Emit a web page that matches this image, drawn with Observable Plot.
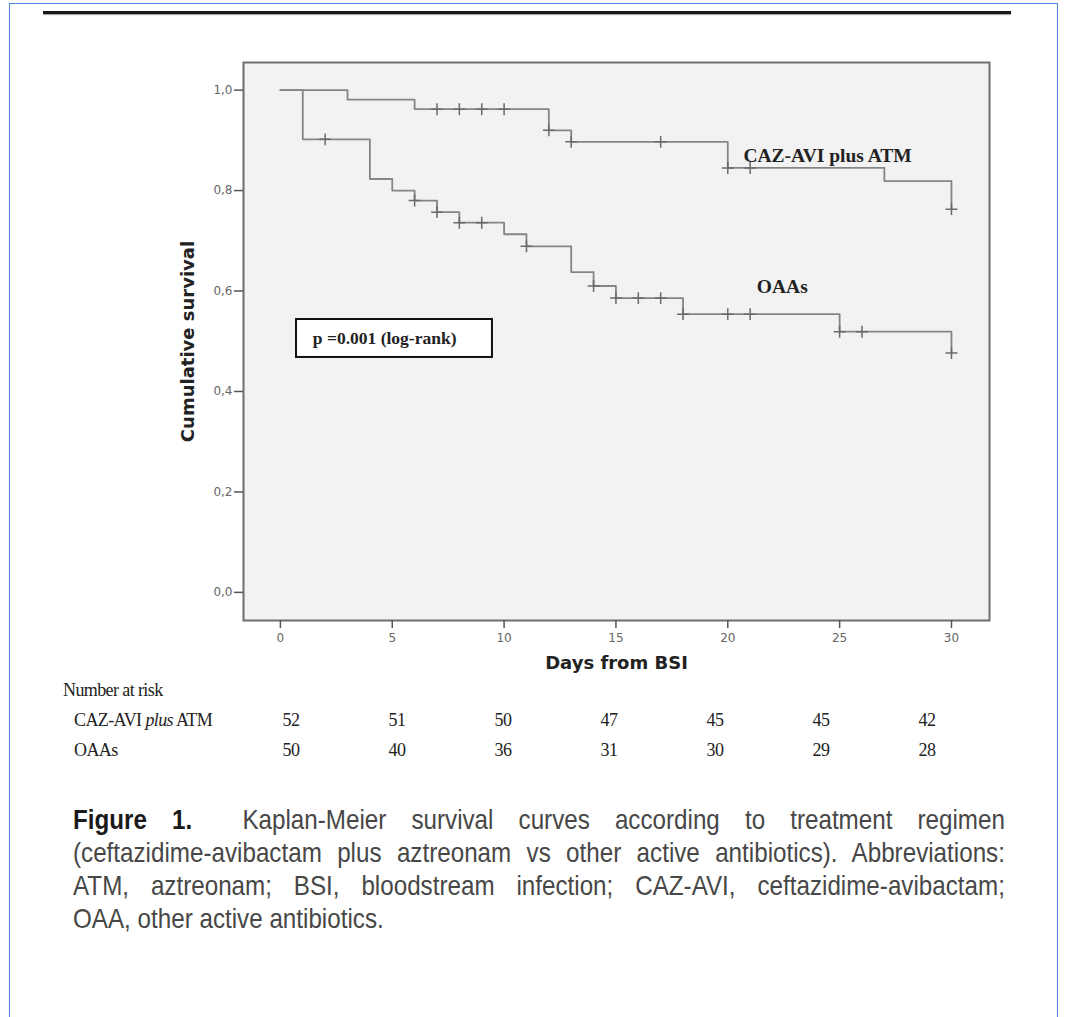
<!DOCTYPE html>
<html>
<head>
<meta charset="utf-8">
<script src="https://cdn.jsdelivr.net/npm/d3@7"></script>
<script src="https://cdn.jsdelivr.net/npm/@observablehq/plot@0.6"></script>
<style>
  html, body { margin: 0; padding: 0; background: #fff; }
  body { width: 1071px; height: 1017px; position: relative; overflow: hidden; }
  #page { position: absolute; left: 9px; top: 3px; width: 1047px; height: 1030px;
          border-left: 1.5px solid #4f86d9; border-top: 1.5px solid #4f86d9; border-right: 1.5px solid #4f86d9; }
  #rule { position: absolute; left: 43px; top: 11px; width: 968px; height: 3px; background: #1a1a1a;
          box-shadow: 0 1px 1px #999; }
  #chart { position: absolute; left: 0; top: 0; }
  .risk { position: absolute; font-family: "Liberation Serif", "Times New Roman", serif; font-size: 18px;
          line-height: 20px; color: #222; letter-spacing: -0.6px; white-space: nowrap; }
  .num { transform: translateX(-50%); }
  #caption { position: absolute; left: 73px; top: 803px; width: 1059px;
             transform: scaleX(0.88); transform-origin: 0 0;
             font-family: "Liberation Sans", Arial, sans-serif;
             font-size: 27.5px; line-height: 33px; color: #474747; }
  #caption div { text-align: justify; text-align-last: justify; white-space: nowrap; }
  #caption div.last { text-align: left; text-align-last: left; }
  #caption b { color: #1a1a1a; }
</style>
</head>
<body>
<div id="page"></div>
<div id="rule"></div>
<div id="chart"></div>
<div id="risk"></div>
<div id="caption">
  <div><b>Figure 1.</b>&nbsp; Kaplan-Meier survival curves according to treatment regimen</div>
  <div>(ceftazidime-avibactam plus aztreonam vs other active antibiotics). Abbreviations:</div>
  <div>ATM, aztreonam; BSI, bloodstream infection; CAZ-AVI, ceftazidime-avibactam;</div>
  <div class="last">OAA, other active antibiotics.</div>
</div>
<script>
// ---- Data ----
const groups = ["CAZ-AVI plus ATM", "OAAs"];

// CAZ-AVI plus ATM: step times and survival after each step
const cazTimes = [0, 3, 6, 12, 13, 20, 27, 30];
const cazSurv  = [1.0, 0.981, 0.962, 0.920, 0.897, 0.845, 0.819, 0.763];
const cazCensor = [7, 8, 9, 10, 12, 13, 17, 20, 21, 30];

// OAAs
const oaaTimes = [0, 1, 4, 5, 6, 7, 8, 10, 11, 13, 14, 15, 18, 25, 30];
const oaaSurv  = [1.0, 0.902, 0.823, 0.800, 0.780, 0.757, 0.736, 0.713, 0.689, 0.6375, 0.610, 0.586, 0.554, 0.519, 0.4765];
const oaaCensor = [2, 6, 7, 8, 9, 11, 14, 15, 16, 17, 18, 20, 21, 25, 26, 30];

const xTicks = [0, 5, 10, 15, 20, 25, 30];
const yTicks = [0, 0.2, 0.4, 0.6, 0.8, 1.0];

// Number at risk
const riskTimes = [0, 5, 10, 15, 20, 25, 30];
const riskCaz = [52, 51, 50, 47, 45, 45, 42];
const riskOaa = [50, 40, 36, 31, 30, 29, 28];

// Annotations (data coordinates)
const curveLabels = [
  {text: "CAZ-AVI plus ATM", day: 20.7, surv: 0.870},
  {text: "OAAs", day: 21.3, surv: 0.609}
];
const pBox = {text: "p =0.001 (log-rank)", day1: 0.72, day2: 9.48, surv1: 0.4677, surv2: 0.5433, textDay: 1.45, textSurv: 0.5055};

// ---- Build tables ----
function survAt(times, surv, t) {
  let s = surv[0];
  for (let i = 0; i < times.length; i++) if (times[i] <= t) s = surv[i];
  return s;
}
const lineData = [
  ...cazTimes.map((t, i) => ({group: groups[0], day: t, surv: cazSurv[i]})),
  ...oaaTimes.map((t, i) => ({group: groups[1], day: t, surv: oaaSurv[i]}))
];
const censorData = [
  ...cazCensor.map(t => ({group: groups[0], day: t, surv: survAt(cazTimes, cazSurv, t)})),
  ...oaaCensor.map(t => ({group: groups[1], day: t, surv: survAt(oaaTimes, oaaSurv, t)}))
];

const W = 1071, H = 690;
const chart = Plot.plot({
  width: W, height: H,
  marginLeft: 243, marginRight: 82, marginTop: 62, marginBottom: 70,
  style: {background: "transparent", fontFamily: "DejaVu Sans, sans-serif"},
  x: {domain: [-1.65, 31.7]},
  y: {domain: [-0.056, 1.055]},
  marks: [
    Plot.frame({fill: "#f2f2f2", stroke: "none"}),
    Plot.rect([pBox], {x1: "day1", x2: "day2", y1: "surv1", y2: "surv2", fill: "#fff", stroke: "#111", strokeWidth: 2}),
    Plot.text([pBox], {x: "textDay", y: "textSurv", text: "text", textAnchor: "start", fontFamily: "Liberation Serif, Times New Roman, serif", fontWeight: "bold", fontSize: 17.5, fill: "#222"}),
    Plot.line(lineData, {x: "day", y: "surv", z: "group", curve: "step-after", stroke: "#858585", strokeWidth: 1.8}),
    Plot.dot(censorData, {x: "day", y: "surv", symbol: "plus", r: 3.9, stroke: "#6a6a6a", strokeWidth: 1.5}),
    Plot.text(curveLabels, {x: "day", y: "surv", text: "text", textAnchor: "start", fontFamily: "Liberation Serif, Times New Roman, serif", fontWeight: "bold", fontSize: 19.5, fill: "#222"}),
    Plot.frame({stroke: "#6e6e6e", strokeWidth: 2}),
    Plot.axisY({ticks: yTicks, tickFormat: d => d.toFixed(1).replace(".", ","), tickSize: 9, tickPadding: 2, stroke: "#555", strokeWidth: 1.5, fill: "#666", fontSize: 12, label: null}),
    Plot.axisX({ticks: xTicks, tickFormat: d => String(d), tickSize: 8, tickPadding: 5, stroke: "#555", strokeWidth: 1.5, fill: "#666", fontSize: 12, label: null}),
    Plot.text(["Cumulative survival"], {frameAnchor: "left", textAnchor: "middle", dx: -55, rotate: -90, text: d => d, fontWeight: "bold", fontSize: 18, fill: "#222"}),
    Plot.text(["Days from BSI"], {frameAnchor: "bottom", dy: 48, text: d => d, fontWeight: "bold", fontSize: 18, fill: "#222"})
  ]
});
document.getElementById("chart").appendChild(chart);

// ---- Number at risk table (aligned with measured columns) ----
const colX = d3.scaleLinear().domain([0, 30]).range([291, 927]);
const risk = document.getElementById("risk");
function addDiv(text, left, top, cls, html) {
  const d = document.createElement("div");
  d.className = "risk " + (cls || "");
  d.style.left = left + "px"; d.style.top = top + "px";
  if (html) d.innerHTML = html; else d.textContent = text;
  risk.appendChild(d);
}
addDiv("Number at risk", 63, 680);
addDiv(null, 74, 710, "", "CAZ-AVI <i>plus</i> ATM");
addDiv(groups[1], 74, 740);
riskTimes.forEach((t, i) => {
  addDiv(String(riskCaz[i]), colX(t), 710, "num");
  addDiv(String(riskOaa[i]), colX(t), 740, "num");
});
</script>
</body>
</html>
